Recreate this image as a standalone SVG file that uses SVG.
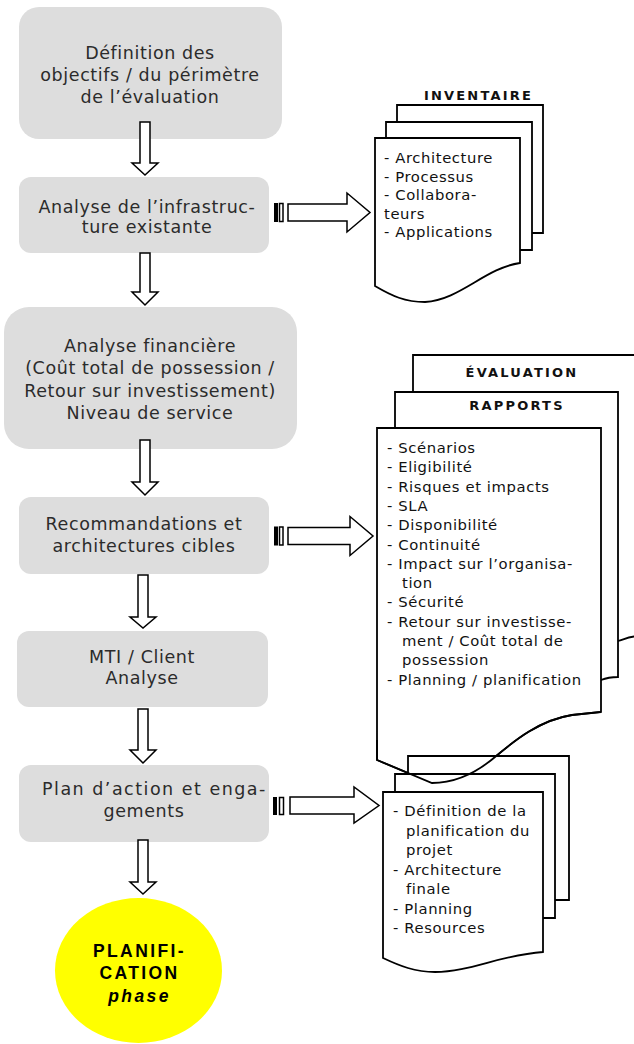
<svg xmlns="http://www.w3.org/2000/svg" width="634" height="1044" viewBox="0 0 634 1044">
<style>
.box{fill:#dddddd;stroke:none}
.bt{font-family:"DejaVu Sans",Verdana,sans-serif;font-size:17.5px;letter-spacing:0.6px;fill:#2b2b2b;text-anchor:middle}
.lt{font-family:"DejaVu Sans",Verdana,sans-serif;font-size:14.8px;letter-spacing:0.6px;fill:#111}
.tt{font-family:"DejaVu Sans",Verdana,sans-serif;font-size:13px;font-weight:bold;letter-spacing:2.2px;fill:#111;text-anchor:middle}
.pg{fill:#fff;stroke:#000;stroke-width:1.8;stroke-linejoin:miter}
.pgo{fill:none;stroke:#000;stroke-width:1.8}
.ar{fill:#fff;stroke:#000;stroke-width:1.5;stroke-linejoin:miter}
.et{font-family:"Liberation Sans",Arial,sans-serif;font-size:17.5px;font-weight:bold;letter-spacing:2.4px;fill:#000;text-anchor:middle}
</style>

<g id="node-definition">
<rect class="box" x="19" y="7" width="263" height="132" rx="20"/>
<text class="bt" x="150" y="59">Définition des</text>
<text class="bt" x="150" y="81">objectifs / du périmètre</text>
<text class="bt" x="150" y="103">de l’évaluation</text>
</g>

<g id="node-analyse-infra">
<rect class="box" x="19" y="177" width="250" height="76" rx="12"/>
<text class="bt" x="147" y="213">Analyse de l’infrastruc-</text>
<text class="bt" x="147" y="233">ture existante</text>
</g>

<g id="node-analyse-financiere">
<rect class="box" x="4" y="307" width="293" height="142" rx="25"/>
<text class="bt" x="150" y="352">Analyse financière</text>
<text class="bt" x="150" y="374">(Coût total de possession /</text>
<text class="bt" x="150" y="397">Retour sur investissement)</text>
<text class="bt" x="150" y="419">Niveau de service</text>
</g>

<g id="node-recommandations">
<rect class="box" x="19" y="497" width="250" height="77" rx="12"/>
<text class="bt" x="144" y="530">Recommandations et</text>
<text class="bt" x="144" y="552">architectures cibles</text>
</g>

<g id="node-mti">
<rect class="box" x="17" y="631" width="251" height="76" rx="12"/>
<text class="bt" x="142" y="663">MTI / Client</text>
<text class="bt" x="142" y="684">Analyse</text>
</g>

<g id="node-plan">
<rect class="box" x="19" y="765" width="250" height="77" rx="12"/>
<text class="bt" x="154" y="795" textLength="224" lengthAdjust="spacing">Plan d’action et enga-</text>
<text class="bt" x="144" y="817">gements</text>
</g>

<g id="node-planification">
<ellipse cx="138.5" cy="970.5" rx="83.5" ry="72.5" fill="#ffff00"/>
<text class="et" x="139.5" y="957">PLANIFI-</text>
<text class="et" x="139.5" y="979">CATION</text>
<text class="et" x="139.5" y="1002" font-style="italic">phase</text>
</g>

<g id="node-inventaire">
<text class="tt" x="478.5" y="100">INVENTAIRE</text>
<path class="pg" d="M397,105 H543 V233 H500 V130 H397 Z"/>
<path class="pg" d="M386,122 H532 V250 H480 V150 H386 Z"/>
<path class="pg" d="M375,138 H520 V263 C485,268 460,300 425,302 C405,302 392,296 375,286 Z"/>
<text class="lt" x="384" y="163">- Architecture</text>
<text class="lt" x="384" y="181.5">- Processus</text>
<text class="lt" x="384" y="200">- Collabora-</text>
<text class="lt" x="384" y="218.5">teurs</text>
<text class="lt" x="384" y="237">- Applications</text>
</g>

<g id="node-evaluation">
<path class="pg" d="M413,355 H640 V636 C630,636 625,639 618,641 H560 V400 H413 Z"/>
<text class="tt" x="522" y="377">ÉVALUATION</text>
<path class="pg" d="M395,392 H618 V677 C612,677 606,678 601,680 H560 V440 H395 Z"/>
<text class="tt" x="517" y="410">RAPPORTS</text>
<path class="pg" d="M377,428 H601 V712 L572,715 C540,720 515,740 495,757 C475,774 455,783 432,783 L377,760 Z"/>
<text class="lt" x="387" y="453">- Scénarios</text>
<text class="lt" x="387" y="472.3">- Eligibilité</text>
<text class="lt" x="387" y="491.6">- Risques et impacts</text>
<text class="lt" x="387" y="510.9">- SLA</text>
<text class="lt" x="387" y="530.2">- Disponibilité</text>
<text class="lt" x="387" y="549.5">- Continuité</text>
<text class="lt" x="387" y="568.8">- Impact sur l’organisa-</text>
<text class="lt" x="402" y="588.1">tion</text>
<text class="lt" x="387" y="607.4">- Sécurité</text>
<text class="lt" x="387" y="626.7">- Retour sur investisse-</text>
<text class="lt" x="402" y="646">ment / Coût total de</text>
<text class="lt" x="402" y="665.3">possession</text>
<text class="lt" x="387" y="684.6">- Planning / planification</text>
</g>

<g id="node-plan-docs">
<path class="pg" d="M408,756 H569 V900 H500 V790 H408 Z"/>
<path class="pg" d="M395,774 H555 V918 H500 V800 H395 Z"/>
<path class="pg" d="M383,792 H543 V952 C500,955 470,972 435,972 C415,972 400,966 383,958 Z"/>
<text class="lt" x="393" y="816">- Définition de la</text>
<text class="lt" x="406" y="835.5">planification du</text>
<text class="lt" x="406" y="855">projet</text>
<text class="lt" x="393" y="874.5">- Architecture</text>
<text class="lt" x="406" y="894">finale</text>
<text class="lt" x="393" y="913.5">- Planning</text>
<text class="lt" x="393" y="933">- Resources</text>
</g>

<g id="overlay-evaluation-edge">
<path class="pgo" d="M601,712 L572,715 C540,720 515,740 495,757 C475,774 455,783 432,783 L377,760 V740"/>
</g>

<g id="connectors">
<polygon class="ar" points="140,122 150,122 150,163 158,163 145,175 132,163 140,163"/>
<polygon class="ar" points="140,253 150,253 150,292 158,292 145,305 132,292 140,292"/>
<polygon class="ar" points="140,440 150,440 150,482 158,482 145,495 132,482 140,482"/>
<polygon class="ar" points="138,575 148,575 148,617 156,617 143,628 130,617 138,617"/>
<polygon class="ar" points="138,709 148,709 148,750 156,750 143,763 130,750 138,750"/>
<polygon class="ar" points="138,840 148,840 148,882 156,882 143,894 130,882 138,882"/>

<rect x="274" y="203" width="4" height="19" fill="#000"/>
<rect class="ar" x="279.5" y="203.5" width="3.5" height="18"/>
<polygon class="ar" points="288,204 347,204 347,193 370,212.5 347,232 347,221 288,221"/>

<rect x="274" y="526.5" width="4" height="19" fill="#000"/>
<rect class="ar" x="279.5" y="527" width="3.5" height="18"/>
<polygon class="ar" points="288,527.5 350,527.5 350,516.5 373,536 350,555.5 350,544.5 288,544.5"/>

<rect x="273" y="797" width="4" height="18" fill="#000"/>
<rect class="ar" x="279.5" y="797.5" width="4" height="17"/>
<polygon class="ar" points="290,797 354,797 354,787 379,805.5 354,823 354,814 290,814"/>
</g>
</svg>
